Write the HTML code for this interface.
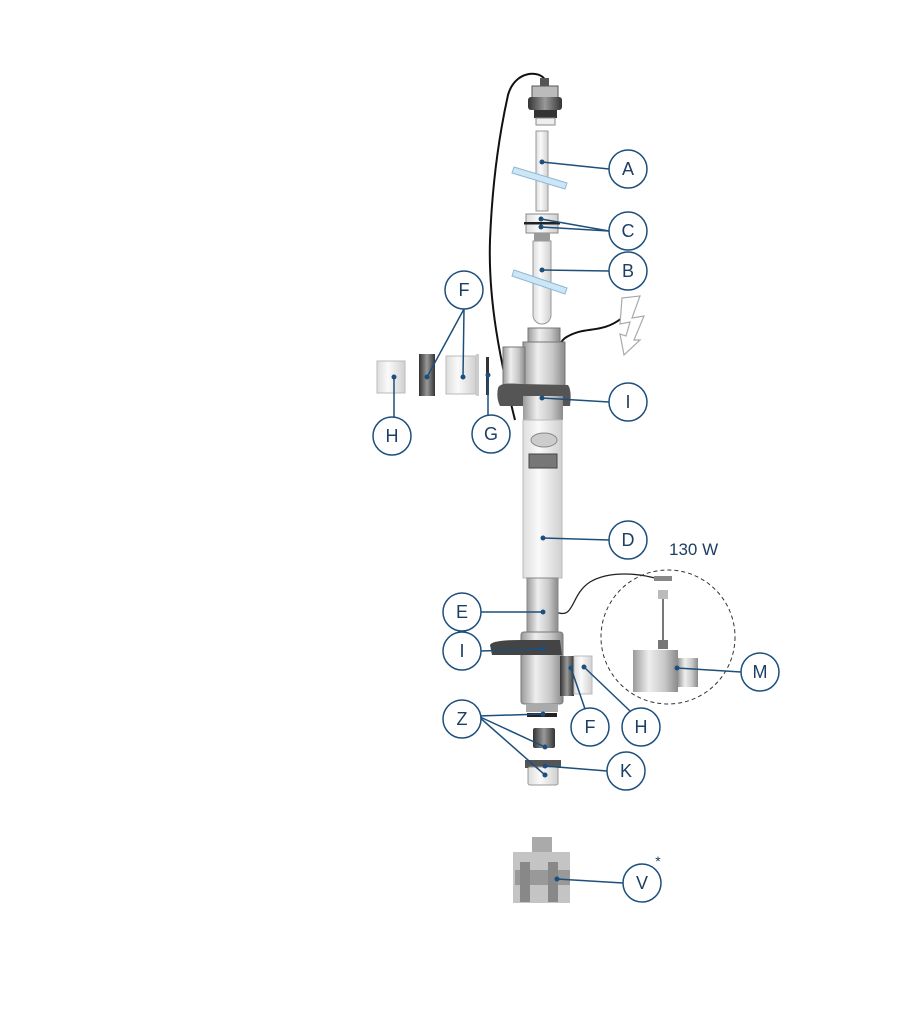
<!DOCTYPE html>
<html><head><style>body{margin:0;background:#fff}svg{display:block}</style></head><body>
<svg width="910" height="1024" viewBox="0 0 910 1024" xmlns="http://www.w3.org/2000/svg" font-family="Liberation Sans, sans-serif">
<defs>
<linearGradient id="g" x1="0" x2="1"><stop offset="0" stop-color="#9a9a9a"/><stop offset=".35" stop-color="#eee"/><stop offset=".7" stop-color="#c8c8c8"/><stop offset="1" stop-color="#8a8a8a"/></linearGradient>
<linearGradient id="w" x1="0" x2="1"><stop offset="0" stop-color="#ddd"/><stop offset=".4" stop-color="#fafafa"/><stop offset="1" stop-color="#d0d0d0"/></linearGradient>
<linearGradient id="d" x1="0" x2="1"><stop offset="0" stop-color="#333"/><stop offset=".5" stop-color="#999"/><stop offset="1" stop-color="#333"/></linearGradient>
</defs>
<path d="M545 80 C540 70 515 70 508 95 C498 140 492 190 490 240 C488 300 500 360 515 420" fill="none" stroke="#111" stroke-width="2"/>
<path d="M550 420 C552 390 550 350 565 338 C585 325 600 335 622 318" fill="none" stroke="#111" stroke-width="2"/>
<path d="M556 612 C575 620 570 595 590 582 C610 570 640 574 655 578" fill="none" stroke="#222" stroke-width="1.3"/>
<path d="M622 298 L640 296 L632 318 L644 316 L634 340 L640 340 L624 355 L620 334 L626 336 L630 322 L620 324 Z" fill="#fff" stroke="#aaa" stroke-width="1.2"/>
<rect x="540" y="78" width="9" height="8" fill="#555"/>
<rect x="532" y="86" width="26" height="12" fill="#bbb" stroke="#555"/>
<rect x="528" y="97" width="34" height="13" rx="3" fill="url(#d)"/>
<rect x="534" y="110" width="23" height="8" fill="#333"/>
<rect x="536" y="118" width="19" height="7" fill="#eee" stroke="#888"/>
<rect x="536" y="131" width="12" height="80" fill="url(#w)" stroke="#999"/>
<path d="M514 167 L567 183 L565 189 L512 173 Z" fill="#cde6f5" stroke="#8db9d8"/>
<rect x="526" y="214" width="32" height="19" fill="url(#w)" stroke="#888"/>
<rect x="524" y="222" width="36" height="2.5" fill="#222"/>
<rect x="534" y="233" width="16" height="8" fill="#999"/>
<path d="M533 241 H551 V315 A9 9 0 0 1 533 315 Z" fill="url(#w)" stroke="#999"/>
<path d="M514 270 L567 288 L565 294 L512 276 Z" fill="#cde6f5" stroke="#8db9d8"/>
<rect x="528" y="328" width="32" height="16" fill="url(#g)" stroke="#777"/>
<rect x="523" y="342" width="42" height="52" fill="url(#g)" stroke="#777"/>
<rect x="503" y="347" width="22" height="46" fill="url(#g)" stroke="#777"/>
<path d="M498 388 Q500 382 520 384 L568 385 Q572 390 570 406 L500 406 Q496 398 498 388Z" fill="#555"/>
<rect x="523" y="396" width="40" height="24" fill="url(#g)"/>
<rect x="377" y="361" width="28" height="32" fill="url(#w)" stroke="#bbb"/>
<rect x="419" y="354" width="16" height="42" fill="url(#d)"/>
<rect x="446" y="356" width="30" height="38" fill="url(#w)" stroke="#bbb"/>
<rect x="476" y="354" width="3" height="42" fill="#ccc"/>
<rect x="486" y="357" width="3" height="38" fill="#333"/>
<rect x="523" y="420" width="39" height="158" fill="url(#w)" stroke="#bbb"/>
<ellipse cx="544" cy="440" rx="13" ry="7" fill="#ccc" stroke="#888"/>
<rect x="529" y="454" width="28" height="14" fill="#777" stroke="#444"/>
<rect x="527" y="578" width="31" height="56" fill="url(#g)" stroke="#888"/>
<rect x="521" y="632" width="42" height="72" rx="3" fill="url(#g)" stroke="#777"/>
<path d="M490 645 Q492 640 520 640 L560 640 L562 655 L492 655 Z" fill="#444"/>
<rect x="560" y="656" width="14" height="40" fill="url(#d)"/>
<rect x="574" y="656" width="18" height="38" fill="url(#w)" stroke="#bbb"/>
<rect x="526" y="704" width="32" height="8" fill="#aaa"/>
<rect x="527" y="713" width="30" height="4" fill="#222"/>
<rect x="533" y="728" width="22" height="20" rx="2" fill="url(#d)"/>
<rect x="525" y="760" width="36" height="8" fill="#555"/>
<rect x="528" y="767" width="30" height="18" rx="2" fill="url(#w)" stroke="#999"/>
<rect x="532" y="837" width="20" height="15" fill="#aaa"/>
<rect x="513" y="852" width="57" height="51" fill="#c4c4c4"/>
<rect x="515" y="870" width="55" height="15" fill="#999"/>
<rect x="520" y="862" width="10" height="40" fill="#888"/><rect x="548" y="862" width="10" height="40" fill="#888"/>
<circle cx="668" cy="637" r="67" fill="none" stroke="#333" stroke-dasharray="4 3"/>
<rect x="654" y="576" width="18" height="5" fill="#888"/>
<rect x="658" y="590" width="10" height="9" fill="#bbb"/>
<line x1="663" y1="599" x2="663" y2="640" stroke="#777" stroke-width="2"/>
<rect x="658" y="640" width="10" height="9" fill="#777"/>
<rect x="633" y="650" width="45" height="42" fill="url(#g)"/>
<rect x="678" y="658" width="20" height="29" fill="url(#g)"/>
<text x="669" y="555" font-size="17" fill="#1d3f63">130 W</text>
<g stroke="#1d4f7c" stroke-width="1.5" fill="none">
<line x1="542" y1="162" x2="609" y2="169"/>
<line x1="541" y1="219" x2="609" y2="231"/><line x1="541" y1="227" x2="609" y2="231"/>
<line x1="542" y1="270" x2="609" y2="271"/>
<line x1="464" y1="309" x2="427" y2="377"/><line x1="464" y1="309" x2="463" y2="377"/>
<line x1="394" y1="377" x2="394" y2="417"/>
<line x1="488" y1="375" x2="488" y2="415"/>
<line x1="542" y1="398" x2="609" y2="402"/>
<line x1="543" y1="538" x2="609" y2="540"/>
<line x1="481" y1="612" x2="543" y2="612"/>
<line x1="481" y1="651" x2="543" y2="649"/>
<line x1="478" y1="716" x2="543" y2="714"/><line x1="478" y1="716" x2="545" y2="747"/><line x1="478" y1="716" x2="545" y2="775"/>
<line x1="571" y1="668" x2="585" y2="709"/>
<line x1="584" y1="667" x2="630" y2="711"/>
<line x1="545" y1="766" x2="607" y2="771"/>
<line x1="677" y1="668" x2="741" y2="672"/>
<line x1="557" y1="879" x2="623" y2="883"/>
</g>
<g fill="#1d4f7c">
<circle cx="542" cy="162" r="2.5"/><circle cx="541" cy="219" r="2.5"/><circle cx="541" cy="227" r="2.5"/><circle cx="542" cy="270" r="2.5"/>
<circle cx="427" cy="377" r="2.5"/><circle cx="463" cy="377" r="2.5"/><circle cx="394" cy="377" r="2.5"/><circle cx="488" cy="375" r="2.5"/>
<circle cx="542" cy="398" r="2.5"/><circle cx="543" cy="538" r="2.5"/><circle cx="543" cy="612" r="2.5"/><circle cx="543" cy="649" r="2.5"/>
<circle cx="543" cy="714" r="2.5"/><circle cx="545" cy="747" r="2.5"/><circle cx="545" cy="775" r="2.5"/><circle cx="571" cy="668" r="2.5"/>
<circle cx="584" cy="667" r="2.5"/><circle cx="545" cy="766" r="2.5"/><circle cx="677" cy="668" r="2.5"/><circle cx="557" cy="879" r="2.5"/>
</g>
<g fill="#fff" stroke="#1d4f7c" stroke-width="1.5">
<circle cx="628" cy="169" r="19"/><circle cx="628" cy="231" r="19"/><circle cx="628" cy="271" r="19"/>
<circle cx="464" cy="290" r="19"/><circle cx="392" cy="436" r="19"/><circle cx="491" cy="434" r="19"/>
<circle cx="628" cy="402" r="19"/><circle cx="628" cy="540" r="19"/><circle cx="462" cy="612" r="19"/>
<circle cx="462" cy="651" r="19"/><circle cx="462" cy="719" r="19"/><circle cx="590" cy="727" r="19"/>
<circle cx="641" cy="727" r="19"/><circle cx="626" cy="771" r="19"/><circle cx="760" cy="672" r="19"/><circle cx="642" cy="883" r="19"/>
</g>
<g fill="#1d3f63" font-size="18" text-anchor="middle">
<text x="628" y="175">A</text><text x="628" y="237">C</text><text x="628" y="277">B</text>
<text x="464" y="296">F</text><text x="392" y="442">H</text><text x="491" y="440">G</text>
<text x="628" y="408">I</text><text x="628" y="546">D</text><text x="462" y="618">E</text>
<text x="462" y="657">I</text><text x="462" y="725">Z</text><text x="590" y="733">F</text>
<text x="641" y="733">H</text><text x="626" y="777">K</text><text x="760" y="678">M</text><text x="642" y="889">V</text>
<text x="658" y="866" font-size="14">*</text>
</g>
</svg>
</body></html>
